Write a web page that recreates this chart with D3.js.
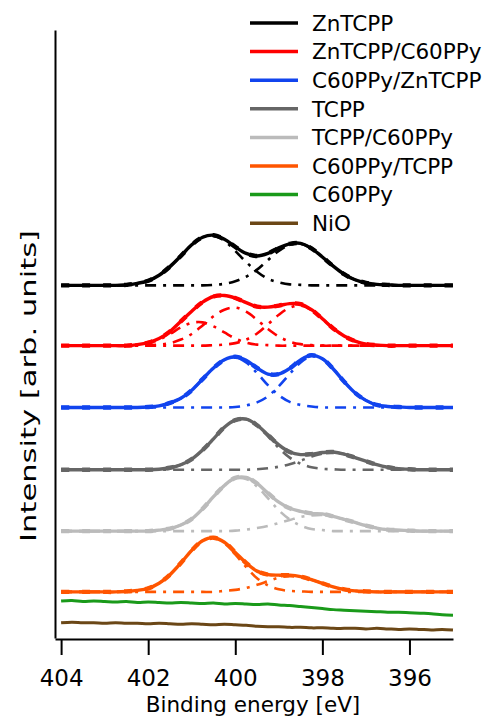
<!DOCTYPE html>
<html>
<head>
<meta charset="utf-8">
<script src="https://cdn.jsdelivr.net/npm/d3@7"></script>
<style>
  body { margin: 0; background: #fff; }
  text { font-family: "DejaVu Sans", Verdana, sans-serif; fill: #000; }
</style>
</head>
<body>
<div id="graph-display"></div>
<script>
// binding energy grid of the spectra (eV), 0.25 eV step
const energies = [404, 403.75, 403.5, 403.25, 403, 402.75, 402.5, 402.25, 402, 401.75, 401.5, 401.25,
  401, 400.75, 400.5, 400.25, 400, 399.75, 399.5, 399.25, 399, 398.75, 398.5, 398.25, 398, 397.75,
  397.5, 397.25, 397, 396.75, 396.5, 396.25, 396, 395.75, 395.5, 395.25, 395];
const tickValues = [404, 402, 400, 398, 396];

const samples = ["ZnTCPP", "ZnTCPP/C60PPy", "C60PPy/ZnTCPP", "TCPP", "TCPP/C60PPy", "C60PPy/TCPP", "C60PPy", "NiO"];
const colors = ["#000000", "#ff0000", "#1144ee", "#666666", "#bbbbbb", "#ff5500", "#1a9a1a", "#6b4716"];

// vertical offset of each fitted spectrum (arb. units)
const baselines = [6.96, 5.77, 4.55, 3.32, 2.11, 0.91];

// fitted N 1s components (intensity above baseline, arb. units)
const znTcppPeaks = [
  [0,0,0,0,0,0,.01,.04,.09,.20,.37,.58,.80,.95,.98,.88,.68,.46,.27,.13,.06,.02,.01,0,0,0,0,0,0,0,0,0,0,0,0,0,0],
  [0,0,0,0,0,0,0,0,0,0,0,0,0,0,.01,.03,.08,.17,.31,.50,.68,.80,.82,.73,.56,.38,.22,.11,.05,.02,.01,0,0,0,0,0,0]
];
const znTcppC60Peaks = [
  [0,0,0,0,0,0,0,.02,.05,.12,.23,.36,.45,.46,.38,.26,.14,.06,.02,.01,0,0,0,0,0,0,0,0,0,0,0,0,0,0,0,0,0],
  [0,0,0,0,0,0,0,0,.01,.02,.05,.12,.23,.40,.58,.71,.75,.67,.51,.33,.18,.08,.03,.01,0,0,0,0,0,0,0,0,0,0,0,0,0],
  [0,0,0,0,0,0,0,0,0,0,0,0,0,0,.01,.02,.05,.12,.24,.42,.61,.75,.79,.70,.53,.34,.19,.09,.03,.01,0,0,0,0,0,0,0]
];
const c60ZnTcppPeaks = [
  [0,0,0,0,0,0,0,0,.01,.03,.09,.18,.34,.56,.78,.94,.99,.89,.68,.44,.24,.11,.05,.02,0,0,0,0,0,0,0,0,0,0,0,0,0],
  [0,0,0,0,0,0,0,0,0,0,0,0,0,0,0,0,.01,.04,.10,.22,.42,.66,.89,1.01,.96,.76,.51,.29,.14,.05,.02,.01,0,0,0,0,0]
];
const tcppPeaks = [
  [0,0,0,0,0,0,0,0,0,.01,.04,.10,.21,.39,.61,.84,.98,1.00,.87,.66,.43,.24,.12,.05,.02,.01,0,0,0,0,0,0,0,0,0,0,0],
  [0,0,0,0,0,0,0,0,0,0,0,0,0,0,0,0,0,0,.01,.03,.06,.11,.18,.26,.32,.34,.31,.24,.17,.10,.05,.02,.01,0,0,0,0]
];
const tcppC60Peaks = [
  [0,0,0,0,0,0,0,0,0,.02,.05,.12,.24,.44,.68,.90,1.04,1.03,.88,.65,.41,.23,.11,.04,.02,0,0,0,0,0,0,0,0,0,0,0,0],
  [0,0,0,0,0,0,0,0,0,0,0,0,0,0,0,0,.01,.03,.06,.10,.16,.22,.28,.31,.32,.29,.23,.17,.11,.06,.03,.02,.01,0,0,0,0]
];
const c60TcppPeaks = [
  [0,0,0,0,0,0,.01,.03,.07,.17,.34,.57,.82,1.01,1.07,.96,.74,.49,.27,.13,.05,.02,.01,0,0,0,0,0,0,0,0,0,0,0,0,0,0],
  [0,0,0,0,0,0,0,0,0,0,0,0,0,0,0,.02,.04,.08,.14,.21,.28,.31,.29,.24,.17,.10,.05,.02,.01,0,0,0,0,0,0,0,0]
];

// raw traces without fit (absolute, arb. units)
const c60ppyTrace = [.73,.74,.72,.73,.72,.71,.72,.70,.71,.70,.69,.70,.69,.68,.69,.67,.68,.67,.66,.67,.65,.64,.62,
  .60,.58,.56,.55,.54,.53,.52,.51,.51,.50,.49,.48,.46,.45];
const nioTrace = [.30,.31,.30,.30,.29,.30,.29,.29,.28,.29,.28,.27,.28,.27,.26,.27,.26,.25,.23,.22,.22,.21,.21,
  .20,.20,.19,.19,.19,.18,.19,.18,.17,.18,.17,.16,.17,.16];

const fitted = [znTcppPeaks, znTcppC60Peaks, c60ZnTcppPeaks, tcppPeaks, tcppC60Peaks, c60TcppPeaks];

const width = 492;
const height = 718;
const margin = {top: 30, right: 39, bottom: 80, left: 55};
const graphWidth = width - margin.left - margin.right;
const graphHeight = height - margin.top - margin.bottom;

const svg = d3.select('#graph-display')
    .append('svg')
    .attr('width', width)
    .attr('height', height);

const graph = svg.append('g')
    .attr('transform', `translate(${margin.left}, ${margin.top})`);

// energy axis runs backwards as usual for XPS
const xScale = d3.scaleLinear()
    .domain([404.14, 395])
    .range([0, graphWidth]);

const yScale = d3.scaleLinear()
    .domain([0, 12])
    .range([graphHeight, 0]);

const line = d3.line()
    .x((d, i) => xScale(energies[i]))
    .y(d => yScale(d))
    .curve(d3.curveCatmullRom);

// components (dash-dot), then fit envelope, then data marks
fitted.forEach((peaks, k) => {
    const offset = baselines[k];
    peaks.forEach(p => {
        graph.append('path')
            .attr('d', line(p.map(v => v + offset)))
            .attr('fill', 'none')
            .attr('stroke', colors[k])
            .attr('stroke-width', 2.6)
            .attr('stroke-dasharray', '11 7 3 7');
    });
});

fitted.forEach((peaks, k) => {
    const offset = baselines[k];
    const envelope = energies.map((e, i) => offset + d3.sum(peaks, p => p[i]));
    graph.append('path')
        .attr('d', line(envelope))
        .attr('fill', 'none')
        .attr('stroke', colors[k])
        .attr('stroke-width', 3.4);
    graph.append('path')
        .attr('d', line(envelope))
        .attr('fill', 'none')
        .attr('stroke', colors[k])
        .attr('stroke-width', 4.4)
        .attr('stroke-dasharray', '8 13');
});

[c60ppyTrace, nioTrace].forEach((trace, j) => {
    graph.append('path')
        .attr('d', line(trace))
        .attr('fill', 'none')
        .attr('stroke', colors[6 + j])
        .attr('stroke-width', 3);
});

// axes
const xAxis = d3.axisBottom(xScale)
    .tickValues(tickValues)
    .tickSize(16)
    .tickSizeOuter(0)
    .tickPadding(15)
    .tickFormat(d3.format('d'));

const xg = graph.append('g')
    .attr('transform', `translate(0, ${graphHeight + 1})`)
    .call(xAxis);
xg.select('.domain').attr('stroke-width', 2);
xg.selectAll('.tick line').attr('stroke-width', 2);
xg.selectAll('.tick text')
    .style('font-family', '"DejaVu Sans", sans-serif')
    .style('font-size', '23px');

const yg = graph.append('g')
    .call(d3.axisLeft(yScale).tickValues([]).tickSizeOuter(0));
yg.select('.domain').attr('stroke-width', 2);

svg.append('text')
    .text('Binding energy [eV]')
    .attr('x', margin.left + 198)
    .attr('y', height - 6)
    .attr('text-anchor', 'middle')
    .style('font-size', '21.5px');

svg.append('text')
    .text('Intensity [arb. units]')
    .attr('transform', `translate(36, ${margin.top + 356}) rotate(-90)`)
    .attr('text-anchor', 'middle')
    .attr('textLength', 312)
    .attr('lengthAdjust', 'spacingAndGlyphs')
    .style('font-size', '22px');

// legend
const legend = svg.append('g')
    .attr('transform', 'translate(250, 23)');

samples.forEach((name, i) => {
    const row = legend.append('g')
        .attr('transform', `translate(0, ${i * 28.6})`);
    row.append('line')
        .attr('x1', 0)
        .attr('x2', 48)
        .attr('stroke', colors[i])
        .attr('stroke-width', 3.5);
    row.append('text')
        .text(name)
        .attr('x', 62)
        .attr('dy', '0.36em')
        .style('font-size', '21.5px');
});
</script>
</body>
</html>
